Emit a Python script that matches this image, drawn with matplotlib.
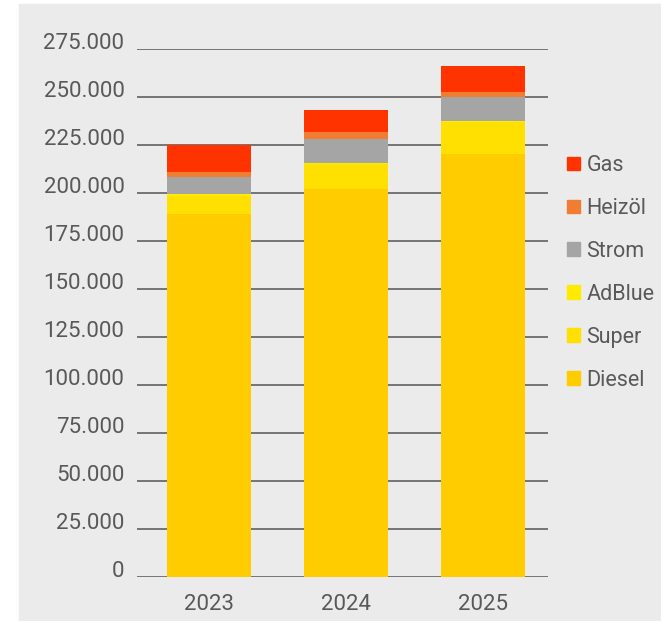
import numpy as np
import matplotlib
matplotlib.use("Agg")
import matplotlib.pyplot as plt
from matplotlib.patches import Rectangle, Patch
from matplotlib.ticker import FuncFormatter, MultipleLocator
from matplotlib.transforms import ScaledTranslation

plt.rcParams['font.family'] = ['Roboto', 'DejaVu Sans']

years = ['2023', '2024', '2025']
series = ['Diesel', 'Super', 'AdBlue', 'Strom', 'Heizöl', 'Gas']
diesel = [189250, 202300, 220500]
super_ = [9250, 12650, 16250]
adblue = [800, 900, 1000]
strom = [8900, 12350, 12500]
heizoel = [2950, 3800, 2600]
gas = [13850, 11000, 13550]
values = [diesel, super_, adblue, strom, heizoel, gas]
colors = ['#FFCC00', '#FFE000', '#FFEB00', '#A5A5A5', '#F07D32', '#FF3300']

txt = '#595959'

fig = plt.figure(figsize=(6.61, 6.21), dpi=100)
fig.patches.append(Rectangle((19 / 661, 0), 1, (621 - 4) / 621,
                             transform=fig.transFigure, color='#EBEBEB', zorder=-10))

ax = fig.add_axes([137 / 661, 44 / 621, 411 / 661, 528 / 621])
ax.set_facecolor('none')

x = np.arange(len(years))
bottom = np.zeros(len(years))
for name, vals, c in zip(series, values, colors):
    ax.bar(x, vals, 0.61, bottom=bottom, color=c, label=name, zorder=3)
    bottom += np.array(vals)

ax.set_ylim(0, 275000)
ax.set_xlim(-0.526, 2.474)
ax.yaxis.set_major_locator(MultipleLocator(25000))
ax.yaxis.set_major_formatter(FuncFormatter(lambda v, p: f'{int(v):,}'.replace(',', '.')))
ax.grid(axis='y', color='#6B6B6B', linewidth=1.3, zorder=1)
ax.set_axisbelow(True)
for s in ax.spines.values():
    s.set_visible(False)
ax.tick_params(length=0, labelsize=16, labelcolor=txt)
ax.tick_params(axis='y', pad=9)
ax.tick_params(axis='x', pad=12)
ax.set_xticks(x, years)

# lift the y labels so they sit just above their grid line
shift = ScaledTranslation(0, 8 / 100, fig.dpi_scale_trans)
for lab in ax.get_yticklabels():
    lab.set_transform(lab.get_transform() + shift)

handles = [Patch(color=c, label=n) for n, c in zip(series, colors)][::-1]
leg = fig.legend(handles=handles, loc='upper left', bbox_to_anchor=(567 / 661, 1 - 155 / 621),
                 frameon=False, fontsize=15.5, handlelength=0.6, handleheight=0.6,
                 handletextpad=0.3, labelspacing=1.02, borderpad=0, borderaxespad=0)
for t in leg.get_texts():
    t.set_color(txt)

fig.savefig('out.png', dpi=100)
